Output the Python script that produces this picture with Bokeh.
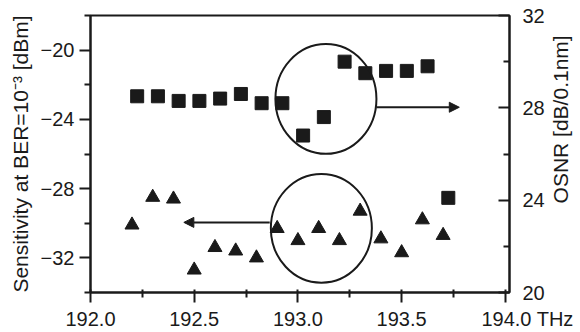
import math
from bokeh.plotting import figure
from bokeh.models import (Range1d, LinearAxis, FixedTicker, NumeralTickFormatter,
                          Arrow, NormalHead, Label)
from bokeh.embed import file_html
from bokeh.resources import INLINE

# ---- data ----
freq_sens = [192.2, 192.3, 192.4, 192.5, 192.6, 192.7, 192.8, 192.9,
             193.0, 193.1, 193.2, 193.3, 193.4, 193.5, 193.6, 193.7]
sensitivity = [-30.1, -28.5, -28.6, -32.7, -31.4, -31.6, -32.0, -30.3,
               -31.0, -30.3, -31.0, -29.3, -30.9, -31.7, -29.8, -30.7]

freq_osnr = [192.225, 192.325, 192.425, 192.525, 192.625, 192.725, 192.825, 192.925,
             193.025, 193.125, 193.225, 193.325, 193.425, 193.525, 193.625, 193.725]
osnr = [28.5, 28.5, 28.3, 28.3, 28.4, 28.6, 28.2, 28.2,
        26.8, 27.6, 30.0, 29.5, 29.6, 29.6, 29.8, 24.1]

x_ticks = [192.0, 192.5, 193.0, 193.5, 194.0]
x_minor = [192.25, 192.75, 193.25, 193.75]
left_ticks = [-32, -28, -24, -20]
left_minor = [-34, -30, -26, -22, -18]
right_ticks = [20, 24, 28, 32]
right_minor = [22, 26, 30]

# annotation geometry (data units, left axis)
ellipse_x = [193.135, 193.113]
ellipse_y = [-22.82, -30.29]
ellipse_w = [0.487, 0.487]
ellipse_h = [6.34, 6.28]

FONT = "Liberation Sans"
INK = "#1a1a1a"

p = figure(width=578, height=332, output_backend="svg", toolbar_location=None,
           x_range=Range1d(192.0, 194.02), y_range=Range1d(-34, -18),
           min_border_left=90, min_border_right=69, min_border_top=15,
           min_border_bottom=39, background_fill_color="white",
           border_fill_color="white")
p.extra_y_ranges = {"osnr": Range1d(20, 32)}
p.grid.visible = False
p.outline_line_color = INK
p.outline_line_width = 2
p.outline_line_alpha = 1

right = LinearAxis(y_range_name="osnr")
p.add_layout(right, "right")

xa = p.xaxis[0]
ya = p.yaxis[0]

for ax in (xa, ya, right):
    ax.axis_line_width = 2
    ax.axis_line_color = INK
    ax.major_tick_line_width = 2
    ax.minor_tick_line_width = 2
    ax.major_tick_line_color = INK
    ax.minor_tick_line_color = INK
    ax.major_label_text_font = FONT
    ax.major_label_text_font_size = "20px"
    ax.major_label_text_color = INK
    ax.axis_label_text_font = FONT
    ax.axis_label_text_font_size = "21px"
    ax.axis_label_text_font_style = "normal"
    ax.axis_label_text_color = INK

xa.ticker = FixedTicker(ticks=x_ticks, minor_ticks=x_minor)
xa.formatter = NumeralTickFormatter(format="0.0")
xa.major_label_overrides = {194.0: "\u00a0" * 8 + "194.0 THz"}
xa.major_tick_in = 3
xa.major_tick_out = 10
xa.minor_tick_in = 3
xa.minor_tick_out = 5
xa.major_label_standoff = 5

ya.ticker = FixedTicker(ticks=left_ticks, minor_ticks=left_minor)
ya.major_tick_in = 0
ya.major_tick_out = 11
ya.minor_tick_in = 0
ya.minor_tick_out = 6
ya.major_label_standoff = 5
ya.axis_label = "Sensitivity at BER=10\u207b\u00b3 [dBm]"
ya.axis_label_standoff = 6

right.ticker = FixedTicker(ticks=right_ticks, minor_ticks=right_minor)
right.major_tick_in = 11
right.major_tick_out = 0
right.minor_tick_in = 6
right.minor_tick_out = 0
right.major_label_standoff = 13

# right axis title, reading bottom-to-top as in the reference
p.add_layout(Label(x=194.02, y=-24.0, x_offset=51, text="OSNR [dB/0.1nm]",
                   angle=math.pi / 2, text_align="center", text_baseline="middle",
                   text_font=FONT, text_font_size="21px", text_color=INK),
             "right")

# data
p.scatter(freq_osnr, osnr, marker="square", size=13, color=INK, y_range_name="osnr")
p.scatter(freq_sens, sensitivity, marker="triangle", size=14, color=INK)

# circles and arrows
p.ellipse(x=ellipse_x, y=ellipse_y, width=ellipse_w, height=ellipse_h,
          fill_color=None, line_color=INK, line_width=2)
p.add_layout(Arrow(end=NormalHead(size=10, fill_color=INK, line_color=INK, line_width=1),
                   x_start=193.378, y_start=-23.3, x_end=193.778, y_end=-23.3,
                   line_width=2, line_color=INK))
p.add_layout(Arrow(end=NormalHead(size=10, fill_color=INK, line_color=INK, line_width=1),
                   x_start=192.864, y_start=-29.95, x_end=192.45, y_end=-29.95,
                   line_width=2, line_color=INK))

open("out.html", "w").write(file_html(p, INLINE))
